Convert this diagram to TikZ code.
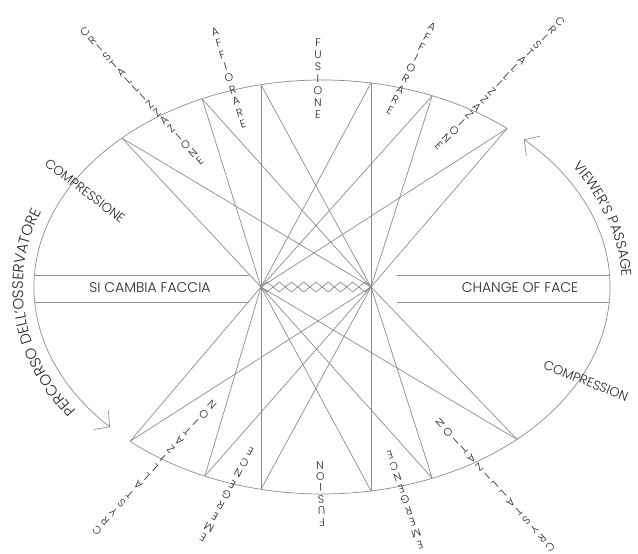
\documentclass[tikz,border=0pt]{standalone}
\usepackage{fontspec}
\setmainfont{Poppins Light}
\usetikzlibrary{calc,decorations.text,arrows.meta}
\definecolor{lc}{HTML}{8C8C8C}
\definecolor{tc}{HTML}{262626}
\tikzset{
  ln/.style={draw=lc, line width=0.7pt},
  lbl/.style={text=tc, font=\fontsize{14}{16}\selectfont, inner sep=0pt},
  sml/.style={text=tc, font=\fontsize{13}{15}\selectfont, inner sep=0pt},
  raytxt/.style={text=tc, font=\fontsize{11}{12}\selectfont, inner sep=0pt},
  barb/.style={-{Straight Barb[length=11pt,width=24pt]}},
}
% #1 name, #2,#3 outer letter, #4,#5 inner letter, #6 count, #7 letters
\newcommand\raylabel[7]{%
  \pgfmathsetmacro\rlrot{atan2(#3-#5,#2-#4)-90}%
  \foreach \ch [count=\i from 0] in {#7}
    \node[raytxt, rotate=\rlrot] (#1-\i) at ($(#2,#3)!{\i/(#6-1)}!(#4,#5)$) {\ch};
}
\begin{document}
\begin{tikzpicture}[x=1pt,y=1pt]
\useasboundingbox (0,0) rectangle (638,554);
\def\cx{322}\def\cy{267}\def\ea{288}\def\eb{207}
% vertices on the ellipse
\coordinate (L1) at ({\cx+\ea*cos(134)},{\cy+\eb*sin(134)});
\coordinate (L2) at ({\cx+\ea*cos(114.6)},{\cy+\eb*sin(114.6)});
\coordinate (TL) at (261,469.3);
\coordinate (TR) at (371,471);
\coordinate (R2) at ({\cx+\ea*cos(67.5)},{\cy+\eb*sin(67.5)});
\coordinate (R1) at ({\cx+\ea*cos(50)},{\cy+\eb*sin(50)});
\coordinate (L1b) at ({\cx+\ea*cos(228.2)},{\cy+\eb*sin(228.2)});
\coordinate (L2b) at ({\cx+\ea*cos(246)},{\cy+\eb*sin(246)});
\coordinate (BL) at (261,64.7);
\coordinate (BR) at (371,63);
\coordinate (R2b) at ({\cx+\ea*cos(292.5)},{\cy+\eb*sin(292.5)});
\coordinate (R1b) at ({\cx+\ea*cos(312.6)},{\cy+\eb*sin(312.6)});
% hubs
\coordinate (HL) at (261,267);
\coordinate (HR) at (371,267);
% ellipse as two arrowed arcs
\draw[ln, barb] (R1) arc[start angle=50, end angle=222.6, x radius=\ea, y radius=\eb];
\draw[ln, barb] (L1b) arc[start angle=228.2, end angle=405.5, x radius=\ea, y radius=\eb];
% verticals
\draw[ln] (TL) -- (BL);
\draw[ln] (TR) -- (BR);
\draw[ln] (TL) -- (HR);
\draw[ln] (TR) -- (HL);
\draw[ln] (BL) -- (HR);
\draw[ln] (BR) -- (HL);
\foreach \v in {L1,L2,R2,R1,L1b,L2b,R2b,R1b} {
  \draw[ln] (\v) -- (HL);
  \draw[ln] (\v) -- (HR);
}
% diamond chain
\foreach \i in {0,...,8} {
  \pgfmathsetmacro\xa{261+\i*110/9}
  \pgfmathsetmacro\xb{261+(\i+0.5)*110/9}
  \pgfmathsetmacro\xc{261+(\i+1)*110/9}
  \draw[ln] (\xa,267) -- (\xb,272) -- (\xc,267) -- (\xb,262) -- cycle;
}
% bands
\coordinate (BLa) at (34.5,279); \coordinate (BLb) at (249,279);
\coordinate (BLc) at (34.8,252); \coordinate (BLd) at (249,252);
\coordinate (BRa) at (397,279); \coordinate (BRb) at (609.5,279);
\coordinate (BRc) at (397,252); \coordinate (BRd) at (609.2,252);
\draw[ln] (BLa) -- (BLb);
\draw[ln] (BLc) -- (BLd);
\draw[ln] (BRa) -- (BRb);
\draw[ln] (BRc) -- (BRd);
\node[lbl] (sicambia) at (150,266) {SI CAMBIA FACCIA};
\node[lbl] (change) at (520,266) {CHANGE OF FACE};
% straight side labels
\node[sml, rotate=-37] (compr) at (85,363) {COMPRESSIONE};
\node[sml, rotate=-22] (compe) at (586,173) {COMPRESSION};
% curved labels
\path[decorate, decoration={text along path, text align=center,
  text={|\fontsize{15}{17}\selectfont\color{tc}|PERCORSO DELL'OSSERVATORE}}]
  ({\cx+299*cos(221)},{\cy+218*sin(221)}) arc[start angle=221, end angle=153, x radius=299, y radius=218];
\path[decorate, decoration={text along path, text align=center,
  text={|\fontsize{14}{16}\selectfont\color{tc}|VIEWER'S PASSAGE}}]
  ({\cx+300*cos(40)},{\cy+219*sin(40)}) arc[start angle=40, end angle=-5, x radius=300, y radius=219];
% ray labels
\raylabel{fus}{318}{511}{318}{439}{7}{F,U,S,I,O,N,E}
\raylabel{fusb}{322}{32}{320}{89}{6}{F,U,S,I,O,N}
\raylabel{affl}{215}{522}{243}{430}{9}{A,F,F,I,O,R,A,R,E}
\raylabel{affr}{432}{527}{390}{444}{9}{A,F,F,I,O,R,A,R,E}
\raylabel{cril}{85}{522}{200}{393}{17}{C,R,I,S,T,A,L,L,I,Z,Z,A,Z,I,O,N,E}
\raylabel{crir}{560}{532}{439}{408}{17}{C,R,I,S,T,A,L,L,I,Z,Z,A,Z,I,O,N,E}
\raylabel{cryl}{97}{24}{212}{149}{15}{C,R,Y,S,T,A,L,L,I,Z,A,T,I,O,N}
\raylabel{cryr}{550}{7}{440}{131}{15}{C,R,Y,S,T,A,L,L,I,Z,A,T,I,O,N}
\raylabel{emel}{203}{16}{250}{102}{9}{E,M,E,R,G,E,N,C,E}
\raylabel{emer}{420}{9}{390}{99}{9}{E,M,E,R,G,E,N,C,E}
\end{tikzpicture}
\end{document}
